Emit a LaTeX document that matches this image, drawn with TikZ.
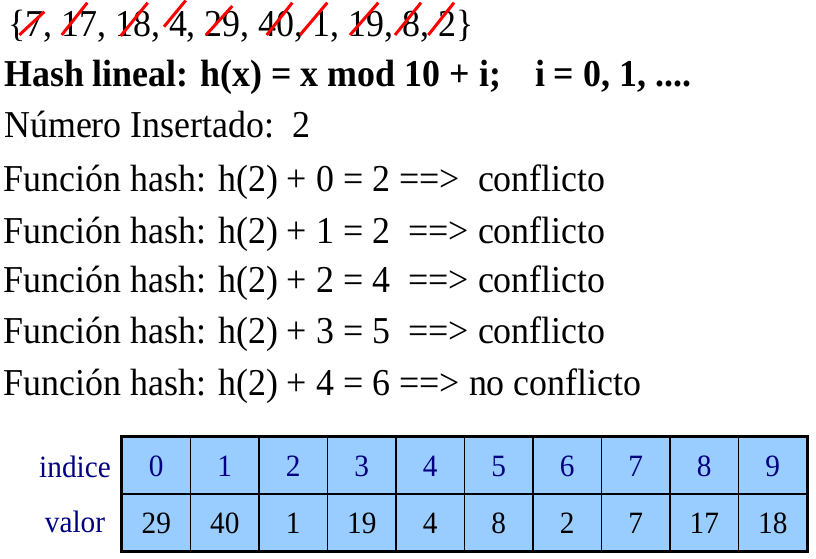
\documentclass[tikz,border=0pt]{standalone}
\usepackage{fontspec}
\setmainfont{Liberation Serif}[FakeStretch=0.945]
\definecolor{navy}{HTML}{000080}
\definecolor{cellblue}{HTML}{99CCFF}
\definecolor{strikered}{HTML}{FF0000}
\begin{document}
\begin{tikzpicture}[x=1pt,y=-1pt,
  txt/.style={anchor=base west, inner sep=0pt, font=\fontsize{38}{44}\selectfont},
  cell/.style={draw=black, line width=1.2pt, fill=cellblue, minimum width=68.5pt, minimum height=57pt,
     inner sep=0pt, text height=21pt, text depth=0pt, font=\fontsize{31}{36}\selectfont},
  idxcell/.style={cell, text=navy},
  valcell/.style={cell, text=black},
  rowlabel/.style={anchor=base, inner sep=0pt, text=navy, font=\fontsize{31}{36}\selectfont},
  strike/.style={draw=strikered, line width=3pt}]
\useasboundingbox (0,0) rectangle (816,559);

% text lines
\node[txt] (set) at (8,37) {\{7, 17, 18, 4, 29, 40, 1, 19, 8, 2\}};
\node[txt] (hash) at (4,87) {\textbf{Hash lineal: h(x) = x mod 10 + i;\hspace{34pt}i = 0, 1, ....}};
\node[txt] (num) at (4,138) {Número Insertado:\ \ 2};
\node[txt] (f0) at (3.5,191.3) {Función hash: h(2) + 0 = 2 ==>\ \ conflicto};
\node[txt] (f1) at (3.5,243.3) {Función hash: h(2) + 1 = 2\ \ ==> conflicto};
\node[txt] (f2) at (3.5,292.7) {Función hash: h(2) + 2 = 4\ \ ==> conflicto};
\node[txt] (f3) at (3.5,343.3) {Función hash: h(2) + 3 = 5\ \ ==> conflicto};
\node[txt] (f4) at (3.5,395) {Función hash: h(2) + 4 = 6 ==> no conflicto};

% strikes over the set
\draw[strike] (19.3,35) -- (44.3,11.7);
\draw[strike] (61.7,35) -- (87.3,2.7);
\draw[strike] (120.7,36) -- (147.7,2.7);
\draw[strike] (164,26.7) -- (185.7,0.5);
\draw[strike] (206,35) -- (232.3,6);
\draw[strike] (266.7,35) -- (292.3,2.7);
\draw[strike] (300,35) -- (327.3,2.7);
\draw[strike] (350,35) -- (378.3,2.7);
\draw[strike] (395,35) -- (421,2.7);
\draw[strike] (428.3,35) -- (454,2.7);

% table
\foreach \k/\v in {0/29,1/40,2/1,3/19,4/4,5/8,6/2,7/7,8/17,9/18}{
  \node[idxcell] (i\k) at ({122+68.5*(\k+0.5)},465.5) {\k};
  \node[valcell] (v\k) at ({122+68.5*(\k+0.5)},522.5) {\v};
}
\draw[line width=2.6pt, line cap=rect] (i0.north west) rectangle (v9.south east);
\node[rowlabel] (lblI) at (75,477) {indice};
\node[rowlabel] (lblV) at (75,532) {valor};
\end{tikzpicture}
\end{document}
